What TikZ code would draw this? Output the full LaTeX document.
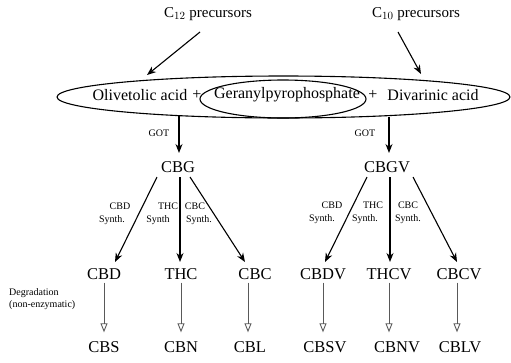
\documentclass[tikz,border=0pt]{standalone}
\usepackage{fontspec}
\setmainfont{Liberation Serif}
\usetikzlibrary{arrows.meta,shapes.geometric}
\begin{document}
\begin{tikzpicture}[x=1pt,y=-1pt,
  big/.style={font=\fontsize{16}{18}\selectfont, inner sep=0pt},
  cmp/.style={font=\fontsize{16.5}{18}\selectfont, inner sep=0pt, text height=11pt, text depth=0pt},
  prec/.style={font=\fontsize{15}{17}\selectfont, inner sep=0pt},
  small/.style={font=\fontsize{10}{11}\selectfont, inner sep=0pt},
  oval/.style={draw, ellipse, line width=1.1pt, inner sep=0pt},
  arr/.style={line width=1.1pt, -{Stealth[length=9pt,width=7pt]}},
  deg/.style={line width=0.9pt, draw=black!65, -{Triangle[open,length=9pt,width=7pt]}, shorten <=3pt, shorten >=9pt}
]
\useasboundingbox[fill=white] (0,0) rectangle (511,362);

% precursors
\node[prec] (c12) at (208,14) {C$_{12}$ precursors};
\node[prec] (c10) at (416,14) {C$_{10}$ precursors};

% ellipses
\node[oval, minimum width=453pt, minimum height=42pt] (bigov) at (283.5,97) {};
\node[oval, minimum width=166pt, minimum height=38pt] (smov) at (283,99) {};

\node[big] (oli) at (140,95) {Olivetolic acid};
\node[big] (p1) at (197,95) {+};
\node[big] (ger) at (287,95) {Geranylpyrophosphate};
\node[big] (p2) at (373,95) {+};
\node[big] (div) at (433,95) {Divarinic acid};

\coordinate (a12s) at (200,32);
\coordinate (a12e) at (147,75);
\coordinate (a10s) at (398,32);
\coordinate (a10e) at (421,74);
\draw[arr] (a12s) -- (a12e);
\draw[arr] (a10s) -- (a10e);

% GOT
\coordinate (g1s) at (179,116);
\coordinate (g1e) at (179,153);
\coordinate (g2s) at (389,117);
\coordinate (g2e) at (389,153);
\draw[arr] (g1s) -- (g1e);
\draw[arr] (g2s) -- (g2e);
\node[small] (got1) at (159,133) {GOT};
\node[small] (got2) at (365,133) {GOT};

\node[cmp] (cbg) at (178,167) {CBG};
\node[cmp] (cbgv) at (387,167) {CBGV};

% second level
\node[cmp] (cbd) at (104,274) {CBD};
\node[cmp] (thc) at (181,274) {THC};
\node[cmp] (cbc) at (255,274) {CBC};
\node[cmp] (cbdv) at (323,274) {CBDV};
\node[cmp] (thcv) at (389,274) {THCV};
\node[cmp] (cbcv) at (459,274) {CBCV};

% branches left
\coordinate (b1s) at (157,177); \coordinate (b1e) at (115,262);
\coordinate (b2s) at (180,177); \coordinate (b2e) at (180,262);
\coordinate (b3s) at (190,177); \coordinate (b3e) at (245,262);
\draw[arr] (b1s) -- (b1e);
\draw[arr] (b2s) -- (b2e);
\draw[arr] (b3s) -- (b3e);
% branches right
\coordinate (r1s) at (367,177); \coordinate (r1e) at (325,262);
\coordinate (r2s) at (390,177); \coordinate (r2e) at (390,262);
\coordinate (r3s) at (413,177); \coordinate (r3e) at (457,262);
\draw[arr] (r1s) -- (r1e);
\draw[arr] (r2s) -- (r2e);
\draw[arr] (r3s) -- (r3e);

% synth labels
\node[small] (l1a) at (120,206) {CBD};
\node[small] (l1b) at (112,220) {Synth.};
\node[small] (l2a) at (168,206) {THC};
\node[small] (l2b) at (158,220) {Synth};
\node[small] (l3a) at (195,206) {CBC};
\node[small] (l3b) at (199,220) {Synth.};
\node[small] (m1a) at (332,205) {CBD};
\node[small] (m1b) at (322,219) {Synth.};
\node[small] (m2a) at (373,205) {THC};
\node[small] (m2b) at (365,219) {Synth.};
\node[small] (m3a) at (408,205) {CBC};
\node[small] (m3b) at (408,219) {Synth.};

% degradation
\node[small, anchor=west, align=left, font=\fontsize{10}{12}\selectfont] (degr) at (9,299) {Degradation\\(non-enzymatic)};

\node[cmp] (cbs) at (104,347) {CBS};
\node[cmp] (cbn) at (181,347) {CBN};
\node[cmp] (cbl) at (250,347) {CBL};
\node[cmp] (cbsv) at (325,347) {CBSV};
\node[cmp] (cbnv) at (397,347) {CBNV};
\node[cmp] (cblv) at (460,347) {CBLV};

\draw[deg] (cbd.south) -- (cbd.south |- cbs.north);
\draw[deg] (thc.south) -- (thc.south |- cbn.north);
\draw[deg] ([xshift=-7pt]cbc.south) -- ([xshift=-7pt]cbc.south |- cbl.north);
\draw[deg] (cbdv.south) -- (cbdv.south |- cbsv.north);
\draw[deg] (thcv.south) -- (thcv.south |- cbnv.north);
\draw[deg] ([xshift=-2pt]cbcv.south) -- ([xshift=-2pt]cbcv.south |- cblv.north);
\end{tikzpicture}
\end{document}
